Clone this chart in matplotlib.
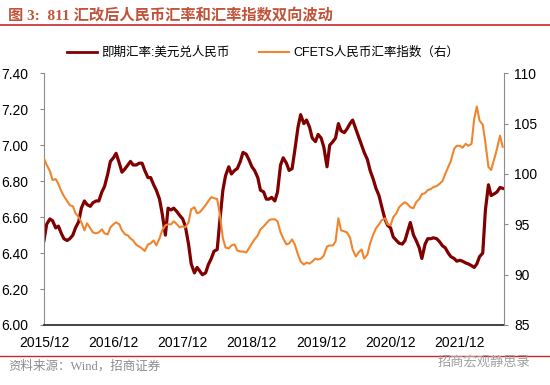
import matplotlib
matplotlib.use("Agg")
import matplotlib.pyplot as plt
import matplotlib.ticker as mticker
from matplotlib.lines import Line2D
import pandas as pd

# ---------------- data (semi-monthly readings) ----------------
start_date = "2015-12-01"
n_points = 160

usdcny = [
    6.47, 6.56, 6.59, 6.58, 6.54, 6.55, 6.51, 6.48, 6.47, 6.48,
    6.50, 6.54, 6.575, 6.65, 6.69, 6.67, 6.66, 6.68, 6.69, 6.69,
    6.74, 6.77, 6.84, 6.91, 6.93, 6.955, 6.90, 6.85, 6.87, 6.89,
    6.91, 6.89, 6.89, 6.90, 6.90, 6.86, 6.82, 6.82, 6.78, 6.75,
    6.70, 6.62, 6.50, 6.65, 6.64, 6.65, 6.63, 6.61, 6.59, 6.55,
    6.45, 6.34, 6.29, 6.32, 6.30, 6.28, 6.29, 6.335, 6.37, 6.41,
    6.42, 6.58, 6.75, 6.83, 6.88, 6.84, 6.86, 6.87, 6.91, 6.96,
    6.95, 6.92, 6.88, 6.86, 6.82, 6.75, 6.74, 6.70, 6.70, 6.71,
    6.69, 6.74, 6.89, 6.93, 6.90, 6.86, 6.87, 6.97, 7.10, 7.17,
    7.12, 7.14, 7.10, 7.04, 7.02, 7.06, 7.04, 6.99, 6.88, 7.00,
    7.02, 7.04, 7.12, 7.08, 7.07, 7.09, 7.12, 7.14, 7.09, 7.05,
    7.00, 6.96, 6.92, 6.86, 6.81, 6.76, 6.72, 6.66, 6.59, 6.555,
    6.54, 6.49, 6.47, 6.455, 6.45, 6.47, 6.52, 6.57, 6.50, 6.47,
    6.43, 6.37, 6.45, 6.48, 6.48, 6.485, 6.48, 6.465, 6.44, 6.43,
    6.40, 6.38, 6.37, 6.355, 6.36, 6.355, 6.345, 6.34, 6.33, 6.32,
    6.34, 6.38, 6.40, 6.64, 6.78, 6.72, 6.73, 6.74, 6.765, 6.76,
]

cfets = [
    101.5, 100.9, 100.3, 99.4, 99.5, 99.0, 98.3, 97.8, 97.3, 96.9,
    96.8, 96.1, 95.7, 95.2, 94.4, 95.1, 94.6, 94.2, 94.1, 94.2,
    94.5, 94.1, 94.0, 94.7, 95.0, 95.2, 95.0, 94.4, 94.0, 93.9,
    93.6, 93.4, 92.95, 92.8, 92.6, 92.35, 93.0, 93.1, 93.4, 92.9,
    93.6, 94.4, 94.9, 95.0, 95.0, 95.3, 95.0, 94.7, 94.8, 94.7,
    95.2, 96.5, 96.7, 96.1, 96.2, 96.5, 96.9, 97.3, 97.7, 97.6,
    97.5, 96.0, 93.6, 92.7, 92.6, 92.9, 93.0, 92.4, 92.3, 92.3,
    92.2, 92.6, 93.1, 93.5, 93.9, 94.5, 94.8, 95.1, 95.4, 95.5,
    95.5, 95.3, 94.2, 93.6, 93.0, 93.1, 93.5, 93.0, 92.0, 91.3,
    91.0, 91.2, 91.1, 91.3, 91.6, 91.5, 91.6, 91.9, 92.8, 92.9,
    92.9, 93.3, 95.6, 94.4, 94.3, 94.2, 93.7, 92.5, 91.8, 92.2,
    92.5, 91.6, 92.0, 93.1, 94.0, 94.6, 95.0, 95.4, 95.6, 95.0,
    94.9, 95.7, 96.1, 96.7, 97.0, 97.2, 97.0, 96.7, 96.6, 97.2,
    97.5, 98.0, 98.1, 98.4, 98.5, 98.7, 98.8, 99.0, 99.3, 100.0,
    100.7, 101.3, 102.5, 102.8, 102.8, 102.6, 103.0, 102.8, 103.0, 105.5,
    106.7, 105.3, 104.9, 103.1, 100.7, 100.4, 101.5, 102.5, 103.8, 102.7,
]

tick_dates = ["2015-12-01", "2016-12-01", "2017-12-01", "2018-12-01",
              "2019-12-01", "2020-12-01", "2021-12-01"]
tick_labels = ["2015/12", "2016/12", "2017/12", "2018/12",
               "2019/12", "2020/12", "2021/12"]
x_end = "2022-07-22"

left_ticks = [6.00, 6.20, 6.40, 6.60, 6.80, 7.00, 7.20, 7.40]
right_ticks = [85, 90, 95, 100, 105, 110]

title = "图 3:  811 汇改后人民币汇率和汇率指数双向波动"
label_cny = "即期汇率:美元兑人民币"
label_cfets = "CFETS人民币汇率指数（右）"
source = "资料来源：Wind，招商证券"
watermark = "招商宏观静思录"

# ---------------- drawing ----------------
dates = pd.date_range(start_date, periods=n_points, freq="SMS")

plt.rcParams["font.family"] = ["Liberation Sans", "Noto Sans CJK SC"]

fig = plt.figure(figsize=(5.5, 3.85), dpi=100)
ax = fig.add_axes([44 / 550, 1 - 325 / 385, 460 / 550, (325 - 73.3) / 385])
ax2 = ax.twinx()

dark = "#800000"
orange = "#F0852D"

l1, = ax.plot(dates, usdcny, color=dark, lw=2.3, solid_joinstyle="round")
l2, = ax2.plot(dates, cfets, color=orange, lw=1.5, solid_joinstyle="round")

ax.set_xlim(pd.Timestamp(start_date), pd.Timestamp(x_end))
ax.set_ylim(6.0, 7.4)
ax2.set_ylim(85, 110)
ax.set_yticks(left_ticks)
ax.yaxis.set_major_formatter(mticker.FormatStrFormatter("%.2f"))
ax2.set_yticks(right_ticks)
ax.set_xticks(pd.to_datetime(tick_dates))
ax.set_xticklabels(tick_labels)

for a in (ax, ax2):
    a.spines["top"].set_visible(False)
    a.set_facecolor("none")
ax.spines["right"].set_visible(False)
ax2.spines["left"].set_visible(False)
ax2.spines["bottom"].set_visible(False)
ax.spines["left"].set_color("#8c8c8c")
ax2.spines["right"].set_color("#8c8c8c")
ax.spines["bottom"].set_color("#333333")
ax.spines["bottom"].set_linewidth(1.3)

ax.tick_params(axis="y", direction="out", length=3, width=0.8, color="#8c8c8c",
               pad=8.5, labelsize=10, labelcolor="black")
ax2.tick_params(axis="y", direction="out", length=3, width=0.8, color="#8c8c8c",
                pad=4.5, labelsize=10, labelcolor="black")
ax.tick_params(axis="x", length=0, pad=8, labelsize=10)

leg_h1 = Line2D([], [], color=dark, lw=2.0)
leg_h2 = Line2D([], [], color=orange, lw=1.5)
fig.legend([leg_h1, leg_h2], [label_cny, label_cfets], loc="center",
           bbox_to_anchor=(263 / 550, 1 - 53 / 385), ncol=2, frameon=False,
           fontsize=9, handlelength=2.4, columnspacing=2.4, handletextpad=0.3)

# title and decorations
fig.text(8 / 550, 1 - 15 / 385, title, color="#C0533A", fontsize=11,
         fontweight="bold", va="center", ha="left",
         family=["Liberation Serif", "Noto Sans CJK SC"])
fig.add_artist(Line2D([0, 1], [1 - 24.5 / 385, 1 - 24.5 / 385],
                      transform=fig.transFigure, color="#C8282D", lw=1.2))
fig.add_artist(Line2D([0, 1], [1 - 355.5 / 385, 1 - 355.5 / 385],
                      transform=fig.transFigure, color="#C8282D", lw=1.0))
fig.text(8 / 550, 1 - 366 / 385, source, color="#8c8c8c", fontsize=9,
         va="center", ha="left", family=["Liberation Serif", "Noto Sans CJK SC"])
fig.text(438 / 550, 1 - 362 / 385, watermark, color="#a0a0a0", fontsize=9.5,
         va="center", ha="left", family=["Noto Sans CJK SC"])

fig.savefig("out.png", dpi=100)
